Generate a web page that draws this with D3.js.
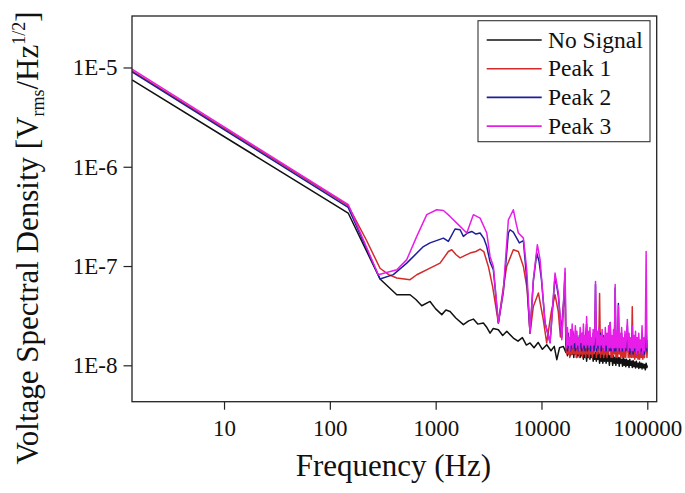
<!DOCTYPE html>
<html><head><meta charset="utf-8">
<script src="https://cdn.jsdelivr.net/npm/d3@7"></script>
<style>body{margin:0;background:#fff}svg{display:block}</style>
</head><body><svg id="c" width="685" height="493"></svg>
<script>
const xDomain = [1.35, 1.227e5];
const yDomain = [4.3e-9, 3.3e-5];
const xTickValues = [10, 100, 1000, 10000, 100000];
const xTickLabels = ["10", "100", "1000", "10000", "100000"];
const yTickValues = [1e-8, 1e-7, 1e-6, 1e-5];
const yTickLabels = ["1E-8", "1E-7", "1E-6", "1E-5"];
const seriesNames = ["No Signal", "Peak 1", "Peak 2", "Peak 3"];
const seriesColors = ["#111111", "#d42a2a", "#1e1e9a", "#e81ee8"];

// Low/mid-frequency part of each curve
const noSignalFreq = [1.35,149,298,429,573,650,739,885,1000,1143,1250,1368,1550,1828,2050,2271,2500,2824,3050,3266,3500,3914,4300,4700,5420,6000,6600,7200,7796,8500,9300,10200,11220,12300,13200,13960,14800,16110];
const noSignalVsd = [7.5e-6,3.42e-7,7.4e-8,5.14e-8,5.14e-8,4.6e-8,3.98e-8,4.4e-8,3.7e-8,3.24e-8,3.6e-8,3.49e-8,3.0e-8,2.57e-8,2.8e-8,2.92e-8,2.6e-8,2.67e-8,2.4e-8,2.11e-8,2.35e-8,2.28e-8,2.0e-8,2.2e-8,1.88e-8,1.75e-8,1.9e-8,1.6e-8,1.68e-8,1.5e-8,1.7e-8,1.45e-8,1.61e-8,1.4e-8,1.55e-8,1.14e-8,1.5e-8,1.55e-8];

const peak1Freq = [1.35,149,220,298,360,429,573,663,885,1100,1318,1420,1560,1702,1900,2113,2400,2630,2850,3148,3450,3914,4300,4688,5420,6050,6745,7300,7796,8375,9350,10400,11200,12400,13430,14400,15100,16710];
const peak1Vsd = [9.25e-6,4.05e-7,1.85e-7,9.5e-8,8.2e-8,7.57e-8,7.28e-8,8.17e-8,9.54e-8,1.07e-7,1.40e-7,1.46e-7,1.30e-7,1.21e-7,1.28e-7,1.35e-7,1.40e-7,1.48e-7,1.40e-7,9.9e-8,6.24e-8,2.67e-8,5.5e-8,9.9e-8,1.46e-7,1.40e-7,9.9e-8,6.0e-8,2.11e-8,3.92e-8,5.35e-8,2.88e-8,1.68e-8,3.5e-8,5.14e-8,3.5e-8,1.93e-8,6.0e-8];

const peak2Freq = [1.35,149,298,398,533,766,885,1183,1318,1524,1702,1828,2000,2193,2400,2630,2850,3041,3266,3510,3914,4365,4865,5047,5420,6180,6745,7261,7796,8375,9030,9500,10000,10810,12050,13430,14440,15560,16710];
const peak2Vsd = [9.05e-6,3.9e-7,7.4e-8,8.2e-8,1.07e-7,1.57e-7,1.71e-7,1.91e-7,1.77e-7,2.36e-7,2.32e-7,1.99e-7,2.15e-7,2.23e-7,2.1e-7,2.15e-7,1.9e-7,1.57e-7,1.1e-7,9.18e-8,2.67e-8,5.5e-8,2.15e-7,2.32e-7,2.2e-7,1.71e-7,1.8e-7,7.3e-8,2.11e-8,7.0e-8,1.35e-7,1.1e-7,7.3e-8,2.67e-8,1.7e-8,7.9e-8,5.0e-8,1.9e-8,8.5e-8];

const peak3Freq = [1.35,149.6,287,429,533,663,824,1023,1183,1368,1702,1968,2271,2630,3041,3266,3510,3914,4365,4865,5420,5754,6051,6745,7261,7796,8375,9141,9700,10810,12050,13430,14440,15560,16710];
const peak3Vsd = [9.6e-6,4.15e-7,8.17e-8,9.18e-8,1.16e-7,1.99e-7,3.29e-7,3.69e-7,3.63e-7,3.16e-7,2.51e-7,2.15e-7,3.29e-7,3.04e-7,2.15e-7,1.25e-7,9.9e-8,2.67e-8,5.77e-8,2.92e-7,3.69e-7,2.71e-7,2.15e-7,1.91e-7,9.18e-8,2.11e-8,7.28e-8,1.64e-7,1.16e-7,2.67e-8,1.68e-8,8.5e-8,5.35e-8,1.81e-8,9.5e-8];

// High-frequency noisy part (shared frequency grid, values in units of 1e-8)
const noiseUnit = 1e-8;
const noiseFreq = [17000,17300,17600,17900,18200,18500,18800,19100,19500,19800,20200,20500,20900,21300,21600,22000,22400,22800,23200,23600,24000,24400,24900,25300,25800,26200,26700,27200,27700,28200,28700,29200,29700,30200,30800,31300,31900,32400,33000,33600,34200,34800,35400,36100,36700,37400,38000,38700,39400,40100,40800,41600,42300,43100,43800,44600,45400,46200,47100,47900,48800,49700,50500,51400,52400,53300,54300,55200,56200,57200,58300,59300,60400,61500,62600,63700,64800,66000,67200,68400,69600,70900,72100,73400,74700,76100,77400,78800,80200,81700,83100,84600,86100,87700,89200,90800,92500,94100,95800,97500,99200,100000];
const noSignalNoise = [1.35,1.55,1.25,1.5,1.3,1.6,1.25,1.45,1.3,1.5, 1.2,1.45,1.3,1.55,1.2,1.4,1.25,1.5,1.2,1.4, 1.25,1.45,1.15,1.4,1.2,1.45,1.1,1.35,1.2,1.4, 1.15,1.35,1.2,1.4,1.1,1.3,1.15,1.35,1.1,1.3, 1.15,1.35,1.05,1.3,1.1,1.35,1.05,1.25,1.1,1.3, 1.05,1.25,1.1,1.3,1.0,1.25,1.1,1.2,1.0,1.25, 1.05,1.2,1.0,1.25,1.05,1.2,0.98,1.2,1.05,1.15, 0.98,1.2,1.0,1.15,0.97,1.15,1.0,1.12,0.95,1.15, 1.0,1.1,0.95,1.12,0.97,1.08,0.94,1.1,0.96,1.05, 0.93,1.08,0.95,1.05,0.92,1.04,0.94,1.02,0.9,1.05, 0.95,1.0];
const peak1Noise = [1.5,1.3,1.8,1.3,1.6,1.2,1.7,1.3,1.9,1.3, 1.6,1.3,1.8,1.2,1.7,1.3,1.6,1.2,1.8,1.3, 1.6,1.2,1.7,1.3,1.6,1.2,2.2,1.3,1.7,1.2, 1.6,1.3,1.7,1.2,1.6,1.3,1.7,3.5,1.2,1.6, 1.3,1.7,5.3,1.2,1.6,1.3,1.7,1.2,1.6,1.3, 1.7,1.2,1.6,1.3,1.8,2.2,1.2,1.6,1.2,1.7, 1.3,3.8,1.2,1.6,1.2,1.8,1.3,1.6,1.2,1.7, 1.2,1.6,1.2,1.7,1.2,1.6,2.0,1.2,1.6,1.2, 1.6,1.2,3.9,1.2,1.6,1.15,1.6,1.2,1.5,1.15, 1.7,1.15,1.5,1.2,1.8,1.15,1.5,1.2,1.6,1.8, 1.2,1.4];
const peak2Noise = [1.6,2.0,1.4,2.1,1.5,1.9,1.4,2.0,1.5,2.2, 1.5,1.9,1.4,2.1,1.5,1.8,1.4,2.0,1.5,1.9, 1.4,2.1,1.5,1.8,1.4,2.0,2.6,1.4,1.9,1.5, 2.0,1.4,1.8,1.5,2.1,1.4,1.9,6.5,1.4,2.0, 1.5,1.9,1.4,2.1,1.4,1.8,1.5,2.0,1.4,1.9, 1.4,2.0,1.5,1.8,1.4,2.7,1.4,1.9,1.5,2.0, 1.4,6.0,1.4,2.0,1.5,4.2,1.4,1.9,1.4,2.1, 1.4,1.8,1.5,2.0,1.4,1.8,2.5,1.4,1.9,1.3, 1.8,1.4,2.1,1.3,1.9,1.4,1.8,1.3,1.9,1.4, 1.8,1.3,1.7,1.4,2.0,1.3,1.7,1.3,1.8,2.5, 1.4,1.7];
const peak3Noise = [2.1,1.5,2.4,1.6,1.9,1.4,2.3,1.6,2.6,1.5, 2.0,1.7,2.5,1.5,2.2,1.6,1.9,1.4,2.4,1.7, 2.1,1.5,2.6,1.6,2.0,1.5,3.1,1.6,2.2,1.5, 2.4,1.6,1.9,1.4,2.3,1.6,2.0,7.0,1.5,2.2, 1.6,2.4,1.4,2.0,1.6,2.3,1.5,1.9,1.4,2.4, 1.6,2.1,1.4,2.5,1.5,2.7,1.5,2.0,1.4,2.3, 1.5,6.5,1.5,2.2,1.4,4.0,1.5,2.1,1.4,2.4, 1.5,1.9,1.4,2.2,1.5,2.0,2.9,1.4,2.1,1.5, 1.9,1.4,2.5,1.4,2.0,1.5,2.2,1.3,1.9,1.4, 2.1,1.3,1.8,1.5,2.5,1.3,1.9,1.4,2.0,14, 1.5,1.8];

const series = [
  {freq: noSignalFreq, vsd: noSignalVsd, noise: noSignalNoise},
  {freq: peak1Freq, vsd: peak1Vsd, noise: peak1Noise},
  {freq: peak2Freq, vsd: peak2Vsd, noise: peak2Noise},
  {freq: peak3Freq, vsd: peak3Vsd, noise: peak3Noise}
];

const L = 132, R = 656.7, T = 16, B = 401.7;
const svg = d3.select("#c");
const x = d3.scaleLog().domain(xDomain).range([L, R]);
const y = d3.scaleLog().domain(yDomain).range([B, T]);
const font = "'Liberation Serif','Times New Roman',serif";

svg.append("defs").append("clipPath").attr("id", "clip")
  .append("rect").attr("x", L).attr("y", T).attr("width", R - L).attr("height", B - T);

function minors(domain) {
  const out = [];
  const lo = Math.floor(Math.log10(domain[0])), hi = Math.ceil(Math.log10(domain[1]));
  for (let e = lo; e <= hi; e++) for (let m = 2; m <= 9; m++) {
    const v = m * Math.pow(10, e);
    if (v >= domain[0] && v <= domain[1]) out.push(v);
  }
  return out;
}

// x axis
const gx = svg.append("g").attr("transform", `translate(0,${B})`);
gx.call(d3.axisBottom(x).tickValues(minors(xDomain)).tickSize(4.5).tickFormat(""));
gx.call(d3.axisBottom(x).tickValues(xTickValues).tickSize(8).tickPadding(10)
  .tickFormat((d, i) => xTickLabels[i]));
// y axis
const gy = svg.append("g").attr("transform", `translate(${L},0)`);
gy.call(d3.axisLeft(y).tickValues(minors(yDomain)).tickSize(5).tickFormat(""));
gy.call(d3.axisLeft(y).tickValues(yTickValues).tickSize(8.5).tickPadding(6)
  .tickFormat((d, i) => yTickLabels[i]));
svg.selectAll(".domain").remove();
svg.selectAll(".tick line").attr("stroke", "#222").attr("stroke-width", 1.2);
svg.selectAll(".tick text").attr("font-family", font).attr("font-size", 23).attr("fill", "#111");

// curves
const line = d3.line().x(d => x(d[0])).y(d => y(d[1]));
const gl = svg.append("g").attr("clip-path", "url(#clip)");
series.forEach((s, i) => {
  const pts = s.freq.map((f, k) => [f, s.vsd[k]])
    .concat(noiseFreq.map((f, k) => [f, s.noise[k] * noiseUnit]));
  gl.append("path").datum(pts).attr("d", line).attr("fill", "none")
    .attr("stroke", seriesColors[i]).attr("stroke-width", 1.5)
    .attr("stroke-linejoin", "round");
});

// frame
svg.append("rect").attr("x", L).attr("y", T).attr("width", R - L).attr("height", B - T)
  .attr("fill", "none").attr("stroke", "#222").attr("stroke-width", 1.3);

// legend
const lg = svg.append("g");
lg.append("rect").attr("x", 478).attr("y", 20.7).attr("width", 172).attr("height", 121)
  .attr("fill", "#fff").attr("stroke", "#333").attr("stroke-width", 1.1);
seriesNames.forEach((n, i) => {
  const yy = 40 + i * 28.7;
  lg.append("line").attr("x1", 486.7).attr("x2", 541.7).attr("y1", yy).attr("y2", yy)
    .attr("stroke", seriesColors[i]).attr("stroke-width", 1.6);
  lg.append("text").attr("x", 548).attr("y", yy + 7.5)
    .attr("font-family", font).attr("font-size", 23.5).attr("fill", "#111").text(n);
});

// axis titles
svg.append("text").attr("x", (L + R) / 2 - 1).attr("y", 476).attr("text-anchor", "middle")
  .attr("font-family", font).attr("font-size", 31).attr("fill", "#111").text("Frequency (Hz)");

const yt = svg.append("text").attr("transform", "translate(38,238) rotate(-90)")
  .attr("text-anchor", "middle").attr("font-family", font).attr("font-size", 31).attr("fill", "#111");
yt.append("tspan").text("Voltage Spectral Density [V");
yt.append("tspan").attr("font-size", 18).attr("dy", 6).text("rms");
yt.append("tspan").attr("dy", -6).text("/Hz");
yt.append("tspan").attr("font-size", 18).attr("dy", -13).text("1/2");
yt.append("tspan").attr("dy", 13).text("]");
</script></body></html>
